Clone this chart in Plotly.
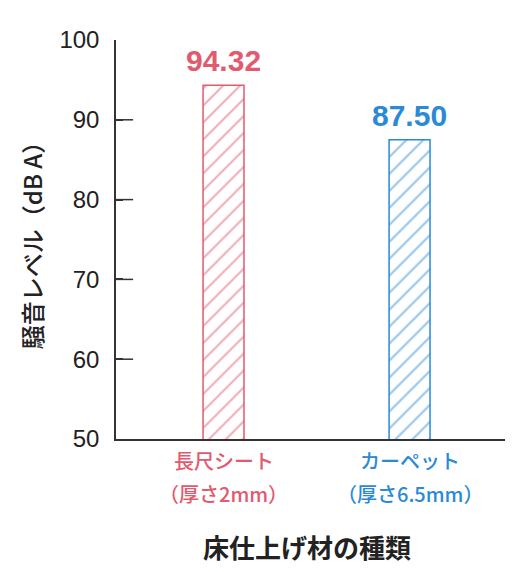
import plotly.graph_objects as go

categories = ["長尺シート", "カーペット"]
subtitles = ["（厚さ2mm）", "（厚さ6.5mm）"]
values = [94.32, 87.50]
value_labels = ["94.32", "87.50"]
colors = ["#E25A6E", "#2A8AD6"]
y_ticks = [50, 60, 70, 80, 90, 100]
inner_ticks = [60, 70, 80, 90]

xpos = list(range(len(categories)))

fig = go.Figure()
fig.add_trace(go.Bar(
    x=xpos, y=values, width=0.22,
    marker=dict(
        color="white",
        line=dict(color=colors, width=1.5),
        pattern=dict(shape="/", fgcolor=colors, bgcolor="white", size=12, solidity=0.17),
    ),
    hoverinfo="skip",
))

annotations = []
for i, (v, t, col) in enumerate(zip(values, value_labels, colors)):
    annotations.append(dict(x=i, y=v, xref="x", yref="y", text=t, showarrow=False,
                            font=dict(family="Liberation Sans, Arial", size=30, color=col, weight="bold"),
                            xanchor="center", yanchor="bottom", yshift=6))
for i, (c, s, col) in enumerate(zip(categories, subtitles, colors)):
    annotations.append(dict(x=i, y=-0.055, xref="x", yref="paper", text=c, showarrow=False,
                            font=dict(family="Noto Sans CJK JP", size=20, color=col, weight=500),
                            xanchor="center", yanchor="middle"))
    annotations.append(dict(x=i, y=-0.136, xref="x", yref="paper", text=s, showarrow=False,
                            font=dict(family="Noto Sans CJK JP, Liberation Sans", size=20, color=col, weight=500),
                            xanchor="center", yanchor="middle"))
annotations.append(dict(x=0.49, y=-0.27, xref="paper", yref="paper", text="床仕上げ材の種類", showarrow=False,
                        font=dict(family="Noto Sans CJK JP", size=26, color="#222222", weight="bold"),
                        xanchor="center", yanchor="middle"))

# longer inner tick marks for the intermediate values
shapes = [dict(type="line", xref="x domain", yref="y", x0=0, x1=0.044, y0=t, y1=t,
               line=dict(color="#333333", width=1.5)) for t in inner_ticks]

fig.update_layout(
    width=524, height=564,
    margin=dict(l=108, r=27, t=32, b=133),
    paper_bgcolor="white", plot_bgcolor="white",
    showlegend=False,
    annotations=annotations,
    shapes=shapes,
    xaxis=dict(range=[-0.578, 1.513], showticklabels=False, ticks="", showgrid=False, zeroline=False,
               showline=True, linecolor="#333333", linewidth=1.5, automargin=False),
    yaxis=dict(range=[50, 100], tickmode="array", tickvals=y_ticks, ticks="inside", ticklen=7, tickwidth=1.5,
               tickcolor="#333333", automargin=False,
               showgrid=False, zeroline=False, showline=True, linecolor="#333333", linewidth=1.5,
               tickfont=dict(family="Liberation Sans, Arial", size=24, color="#222222"),
               ticklabelstandoff=10,
               title=dict(text="騒音レベル（dB A）", standoff=10,
                          font=dict(family="Noto Sans CJK JP", size=24, color="#222222", weight=500))),
)

fig.write_html("out.html")
